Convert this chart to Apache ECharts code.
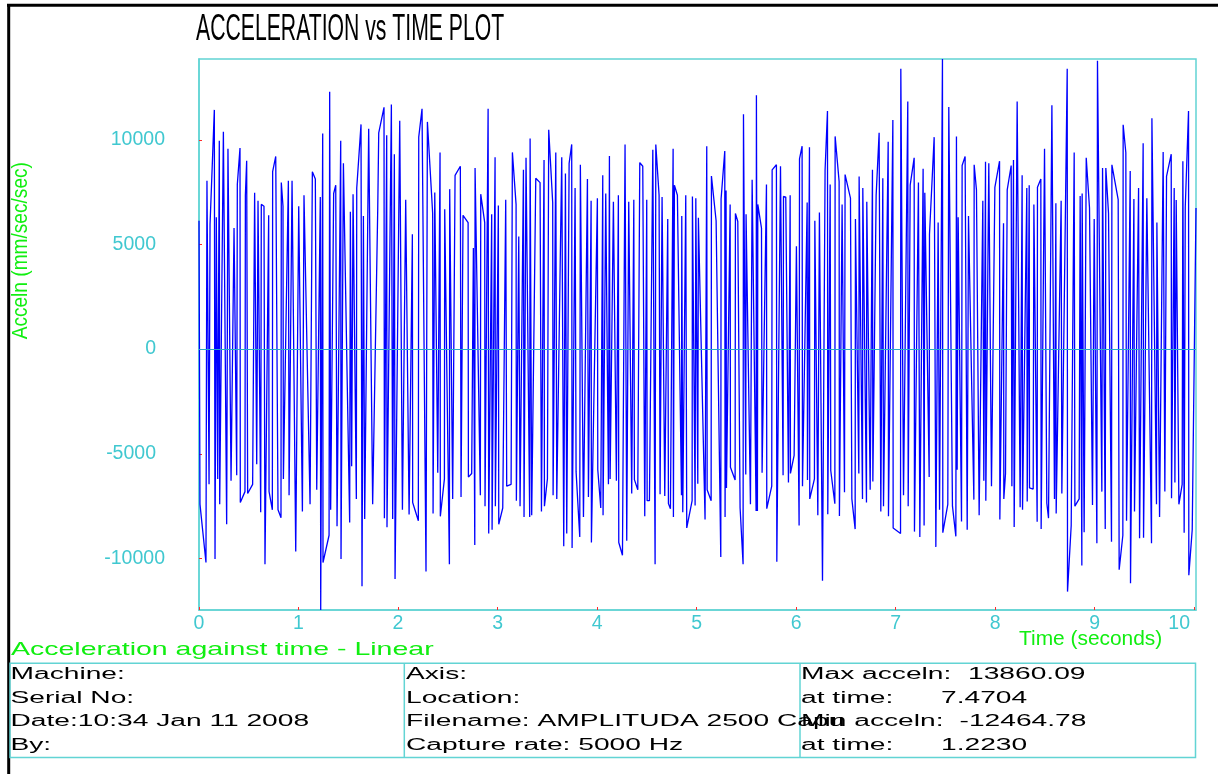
<!DOCTYPE html>
<html>
<head>
<meta charset="utf-8">
<script src="https://cdn.jsdelivr.net/npm/echarts@6/dist/echarts.min.js"></script>
<style>
html, body { margin: 0; padding: 0; background: #ffffff; }
#chart { width: 1218px; height: 774px; }
</style>
</head>
<body>
<div id="chart"></div>
<script>
// Sample times (s) of the plotted acceleration trace
const timeSec = [
  0.000,0.010,0.070,0.080,0.101,0.111,0.154,0.161,0.174,0.188,
  0.204,0.208,0.245,0.278,0.291,0.322,0.352,0.379,0.385,0.412,
  0.415,0.462,0.466,0.479,0.489,0.539,0.559,0.580,0.593,0.620,
  0.626,0.653,0.663,0.700,0.704,0.737,0.740,0.771,0.794,0.824,
  0.827,0.844,0.848,0.898,0.905,0.935,0.972,1.002,1.018,1.039,
  1.055,1.116,1.139,1.169,1.183,1.219,1.223,1.243,1.246,1.307,
  1.313,1.323,1.353,1.374,1.387,1.424,1.427,1.451,1.514,1.521,
  1.534,1.548,1.581,1.585,1.628,1.638,1.652,1.665,1.705,1.745,
  1.796,1.806,1.859,1.863,1.886,1.889,1.933,1.946,1.963,1.970,
  2.017,
  2.044,2.077,2.111,2.144,2.147,2.204,2.208,2.241,2.281,2.295,
  2.348,2.352,2.369,2.399,2.422,2.425,2.466,2.469,2.516,2.519,
  2.549,2.573,2.626,2.633,2.653,2.704,2.707,2.740,2.757,2.771,
  2.774,2.827,2.831,2.871,2.874,2.905,2.911,2.941,2.945,2.975,
  2.978,3.008,3.012,3.052,3.082,3.092,3.136,3.149,3.186,3.189,
  3.213,3.226,3.260,3.266,3.286,3.323,3.327,3.343,3.384,3.427,
  3.441,3.467,3.471,3.501,3.514,3.554,3.558,3.585,3.595,3.645,
  3.665,3.682,3.695,3.719,3.745,3.749,3.779,3.789,3.826,3.832,
  3.863,3.903,3.913,3.940,3.943,4.003,4.007,4.037,4.057,4.060,
  4.087,4.114,4.124,
  4.131,4.164,4.194,4.214,4.218,4.255,4.281,4.298,4.318,4.348,
  4.369,4.375,4.409,4.429,4.459,4.479,4.499,4.503,4.526,4.560,
  4.583,4.590,4.623,4.633,4.653,4.680,4.710,4.717,4.737,4.764,
  4.767,4.777,4.807,4.848,4.851,4.861,4.891,4.901,4.955,4.958,
  4.985,4.992,5.012,5.018,5.085,5.102,5.106,5.146,5.149,5.196,
  5.243,5.246,5.283,5.286,5.296,5.300,5.337,5.340,5.387,5.390,
  5.414,5.437,5.467,5.471,5.494,5.497,5.541,5.558,5.598,5.601,
  5.611,5.615,5.652,5.658,5.702,5.705,5.755,5.759,5.802,5.806,
  5.843,5.869,5.873,5.896,5.923,5.940,5.943,5.980,6.003,6.030,
  6.034,6.060,6.064,6.111,6.114,6.134,
  6.137,6.184,6.188,6.218,6.234,6.265,6.291,6.315,6.318,6.342,
  6.348,6.389,6.392,6.432,6.435,6.462,6.486,6.492,6.546,6.560,
  6.593,6.596,6.630,6.633,6.667,6.670,6.707,6.710,6.744,6.767,
  6.771,6.804,6.834,6.851,6.871,6.878,6.925,6.928,6.972,6.975,
  7.049,7.052,7.079,7.122,7.126,7.146,7.186,7.189,7.229,7.243,
  7.276,7.286,7.293,7.337,7.340,7.387,7.404,7.427,7.441,7.4704,
  7.474,7.524,7.534,7.571,7.605,7.611,7.618,7.628,7.662,7.668,
  7.698,7.719,7.732,7.786,7.789,7.812,7.839,7.876,7.886,7.903,
  7.906,7.936,7.963,7.997,8.044,8.047,8.084,8.087,8.104,8.121,
  8.161,8.168,8.184,8.191,8.221,8.251,8.271,8.275,8.318,8.322,
  8.342,8.345,8.382,8.389,8.422,8.425,8.459,8.462,8.496,8.519,
  8.536,8.570,8.596,8.610,8.613,8.663,8.670,8.724,8.727,8.764,
  8.794,8.801,8.844,8.854,8.871,8.874,8.894,8.915,8.948,8.978,
  8.995,9.022,9.028,9.072,9.079,9.106,9.112,9.139,9.169,9.173,
  9.236,9.246,9.283,9.286,9.313,9.320,9.357,9.360,9.394,9.400,
  9.441,9.451,9.487,9.491,9.524,9.571,9.575,9.621,9.625,9.652,
  9.688,9.705,9.722,9.769,9.772,9.799,9.806,9.819,9.846,9.879,
  9.886,9.899,9.910,9.943,9.946,9.980,10.018
];

// Acceleration (mm/sec/sec) at each sample time
const accel = [
  6132,-7417,-10196,8042,-6462,5958,11429,-10023,6305,-6201,
  9953,-7417,10387,-8372,9571,-6288,5784,-6027,7869,9606,
  -7330,-6809,7348,8998,-6896,-6462,7469,-5506,7087,-7799,
  6913,6826,-10283,6392,-6809,-7678,8477,9206,-7678,-8060,
  7955,6826,-6201,8042,-6983,8042,-9675,6826,6826,-7764,
  7348,-7417,8477,8129,-6722,7261,-12464.78,10300,-10196,-8893,
  12298,-7678,7434,7834,-8459,9953,-10023,8876,-8285,6566,
  -5593,7400,-7156,7695,10735,-11325,6357,-8112,10526,-7417,
  6705,10335,11551,-8077,10213,-8511,11690,-8112,9310,-10978,
  10908,
  -7678,7139,-7903,5489,-7330,-8199,10127,11482,-10630,10856,
  6479,-7851,7486,-5906,9397,-7990,-6201,6687,-10283,7643,
  -7156,8303,8737,-7070,6392,6045,-6114,-5941,4829,-9362,
  8650,-6983,7400,6045,-7504,11482,-8807,6444,-8633,9171,
  -7504,6861,-8372,-7591,7139,-6549,-6462,9397,6913,-7243,
  5385,-7504,8563,-8025,9137,-8025,10057,-7938,8164,7955,
  -7764,9032,-7504,-6201,10474,7000,-6983,9397,-7156,9171,
  -9415,8390,-8807,8876,9779,-9501,7695,-5854,-8980,8807,
  -8025,8129,-7070,7087,-9241,7209,-5767,-7591,8303,-7938,
  7434,-6462,9223,
  -6201,7035,-6288,7348,-9241,-9849,9779,-9154,7035,-6896,
  7139,-6236,-6722,8911,8737,-7990,7139,-7243,-7243,9519,
  -10283,9779,7348,-6931,7261,-7017,6218,-7383,-7625,9571,
  -8025,7834,7348,-6983,6357,-7799,7348,-8546,-7243,7295,
  -7469,7209,-6427,6271,-8146,9692,-6722,-7243,8268,6132,
  -9936,7174,9467,-8025,7573,-6635,6913,-5645,-6253,6479,
  6097,-7591,-10283,11221,-5993,6444,-7417,8094,-7730,12124,
  -7730,6913,5784,-5906,7869,-7625,-6549,8563,8807,-10161,
  8737,-6027,7295,7261,-6375,7348,-5941,-5072,4916,-8424,
  9085,9692,-6549,7000,-6253,9640,
  -7156,-6201,6132,-7938,6531,-11065,8563,11377,-7886,7869,
  -5802,-7383,10161,8008,-7973,6913,-6844,8338,7209,-7156,
  -8598,6218,-5941,8251,-7156,7695,-7330,7035,-6722,8563,
  -6323,7348,10335,-7764,8164,-7504,9901,-7990,10943,-8546,
  -8807,13392,-6983,11829,-7504,7834,9137,-8720,7955,-8980,
  8616,-8424,7469,-6114,5472,10127,-9449,6045,-7678,13860.09,
  -8772,-7417,11568,-7504,-8946,10161,-5767,6305,-8234,8772,
  9206,-8633,6357,-7191,8807,7608,-7938,7087,-6288,8946,
  -7243,8876,-6549,7730,8980,-8146,6010,-7156,-5941,7608,
  8772,-6549,9032,-8494,11829,-7556,8303,-7678,7695,-7278,
  7834,-6635,-6687,6913,-8251,7730,8129,-8598,9571,-7365,
  -8077,11655,-7156,6965,-7851,7087,-6896,13392,-11586,-8424,
  9397,-7504,-7156,7313,-10335,7434,-8754,9137,6740,-7452,
  6218,-9276,13774,-6809,8650,-8598,8650,6479,-9206,8807,
  7139,-10543,-8893,10717,9380,-8199,8511,-11186,7174,-7764,
  7695,-9032,9831,-9015,7209,-9276,11030,-7417,6045,-8025,
  9415,-6809,8251,9310,-7122,7695,-6375,7122,-7417,-6462,
  8980,-8772,6774,11377,-10804,-8633,6740
];

// Axis tick positions
const xTicks = [0, 1, 2, 3, 4, 5, 6, 7, 8, 9, 10];
const yTicks = [-10000, -5000, 0, 5000, 10000];

// Text of the information panel under the plot
const infoLeft = ['Machine:', 'Serial No:', 'Date:10:34 Jan 11 2008', 'By:'];
const infoMiddle = ['Axis:', 'Location:', 'Filename: AMPLITUDA 2500 Capu', 'Capture rate: 5000 Hz'];

// Extremes of the trace, shown in the panel and used as the y range
let maxIdx = 0, minIdx = 0;
for (let i = 1; i < accel.length; i++) {
  if (accel[i] > accel[maxIdx]) maxIdx = i;
  if (accel[i] < accel[minIdx]) minIdx = i;
}
const maxVal = accel[maxIdx], minVal = accel[minIdx];
const tEnd = timeSec[timeSec.length - 1];

const GREEN = '#11ee11';
const TICK_TEXT = '#40c8d0';
const FRAME = '#62d4d4';
const NARROW = "'Liberation Sans Narrow', 'Liberation Sans', Arial, sans-serif";
const SANS = "'Liberation Sans', Arial, sans-serif";
const PANEL_SCALE = 1.63;

const chart = echarts.init(document.getElementById('chart'), null, { renderer: 'canvas' });

function txt(text, x, y, size, scaleX, color, extra) {
  return Object.assign({
    type: 'text', x: x, y: y, scaleX: scaleX, silent: true, z: 10,
    style: {
      text: text, x: 0, y: 0, fill: color, fontSize: size, fontFamily: SANS,
      align: 'left', verticalAlign: 'middle'
    }
  }, extra || {});
}

const rowY = [674.5, 698, 721.7, 745.5];
const graphics = [
  // outer frame
  { type: 'line', silent: true, shape: { x1: 7, y1: 5.2, x2: 1218, y2: 5.2 }, style: { stroke: '#000', lineWidth: 3 } },
  { type: 'line', silent: true, shape: { x1: 8.7, y1: 4, x2: 8.7, y2: 774 }, style: { stroke: '#000', lineWidth: 3 } },
  // title and captions
  txt('ACCELERATION vs TIME PLOT', 196, 30, 37, 0.573, '#000'),
  txt('Time (seconds)', 1019, 639.5, 20, 1.045, GREEN),
  txt('Acceleration against time - Linear', 11, 649.7, 17.7, 1.61, GREEN),
  {
    type: 'text', x: 21.3, y: 250.7, rotation: Math.PI / 2, scaleX: 0.857, silent: true, z: 10,
    style: { text: 'Acceln (mm/sec/sec)', x: 0, y: 0, fill: GREEN, fontSize: 22.3, fontFamily: SANS, align: 'center', verticalAlign: 'middle' }
  },
  // information panel
  { type: 'rect', silent: true, shape: { x: 10, y: 663.3, width: 1185.5, height: 94.2 }, style: { fill: 'none', stroke: FRAME, lineWidth: 1.5 } },
  { type: 'line', silent: true, shape: { x1: 404.3, y1: 663.3, x2: 404.3, y2: 757.5 }, style: { stroke: FRAME, lineWidth: 1.5 } },
  { type: 'line', silent: true, shape: { x1: 800, y1: 663.3, x2: 800, y2: 757.5 }, style: { stroke: FRAME, lineWidth: 1.5 } }
];
infoLeft.forEach((s, i) => graphics.push(txt(s, 10.5, rowY[i], 17.3, PANEL_SCALE, '#000')));
infoMiddle.forEach((s, i) => graphics.push(txt(s, 406, rowY[i], 17.3, PANEL_SCALE, '#000')));
graphics.push(txt('Max acceln:', 801, rowY[0], 17.3, PANEL_SCALE, '#000'));
graphics.push(txt(maxVal.toFixed(2), 968, rowY[0], 17.3, PANEL_SCALE, '#000'));
graphics.push(txt('at time:', 801, rowY[1], 17.3, PANEL_SCALE, '#000'));
graphics.push(txt(timeSec[maxIdx].toFixed(4), 941, rowY[1], 17.3, PANEL_SCALE, '#000'));
graphics.push(txt('Min acceln:', 801, rowY[2], 17.3, PANEL_SCALE, '#000'));
graphics.push(txt(minVal.toFixed(2), 959.5, rowY[2], 17.3, PANEL_SCALE, '#000'));
graphics.push(txt('at time:', 801, rowY[3], 17.3, PANEL_SCALE, '#000'));
graphics.push(txt(timeSec[minIdx].toFixed(4), 941, rowY[3], 17.3, PANEL_SCALE, '#000'));

const labelBase = { fontFamily: NARROW, fontSize: 19.5, color: TICK_TEXT };

chart.setOption({
  animation: false,
  backgroundColor: '#ffffff',
  grid: {
    left: 199, top: 59, right: 22, bottom: 164,
    show: true, borderColor: FRAME, borderWidth: 1.5, backgroundColor: 'transparent'
  },
  xAxis: {
    type: 'value', min: 0, max: tEnd,
    axisLine: { show: true, onZero: false, lineStyle: { color: FRAME, width: 1.5 } },
    splitLine: { show: false },
    axisTick: { show: true, inside: true, length: 3, customValues: xTicks, lineStyle: { color: '#ff2a2a', width: 1 } },
    axisLabel: {
      customValues: xTicks, margin: 4, fontFamily: NARROW, fontSize: 19.5, color: TICK_TEXT,
      formatter: v => v === 10 ? '{last|10}' : '{n|' + v + '}',
      rich: { n: labelBase, last: Object.assign({ padding: [0, 30, 0, 0] }, labelBase) }
    }
  },
  yAxis: {
    type: 'value', min: minVal, max: maxVal,
    axisLine: { show: true, onZero: false, lineStyle: { color: FRAME, width: 1.5 } },
    splitLine: { show: false },
    axisTick: { show: true, inside: true, length: 3, customValues: yTicks, lineStyle: { color: '#ff2a2a', width: 1 } },
    axisLabel: {
      customValues: yTicks, margin: 34, fontFamily: NARROW, fontSize: 19.5, color: TICK_TEXT,
      formatter: v => (Math.abs(v) >= 10000 ? '{w|' : '{n|') + v + '}',
      rich: { w: labelBase, n: Object.assign({ padding: [0, 9, 0, 0] }, labelBase) }
    }
  },
  series: [{
    type: 'line',
    data: timeSec.map((t, i) => [t, accel[i]]),
    showSymbol: false,
    symbol: 'none',
    sampling: 'none',
    lineStyle: { color: '#0000ff', width: 1.3 },
    markLine: {
      silent: true, symbol: 'none', label: { show: false },
      lineStyle: { color: '#2aa9c9', width: 1, type: 'solid' },
      data: [{ yAxis: 0 }]
    }
  }],
  graphic: graphics
});
</script>
</body>
</html>
